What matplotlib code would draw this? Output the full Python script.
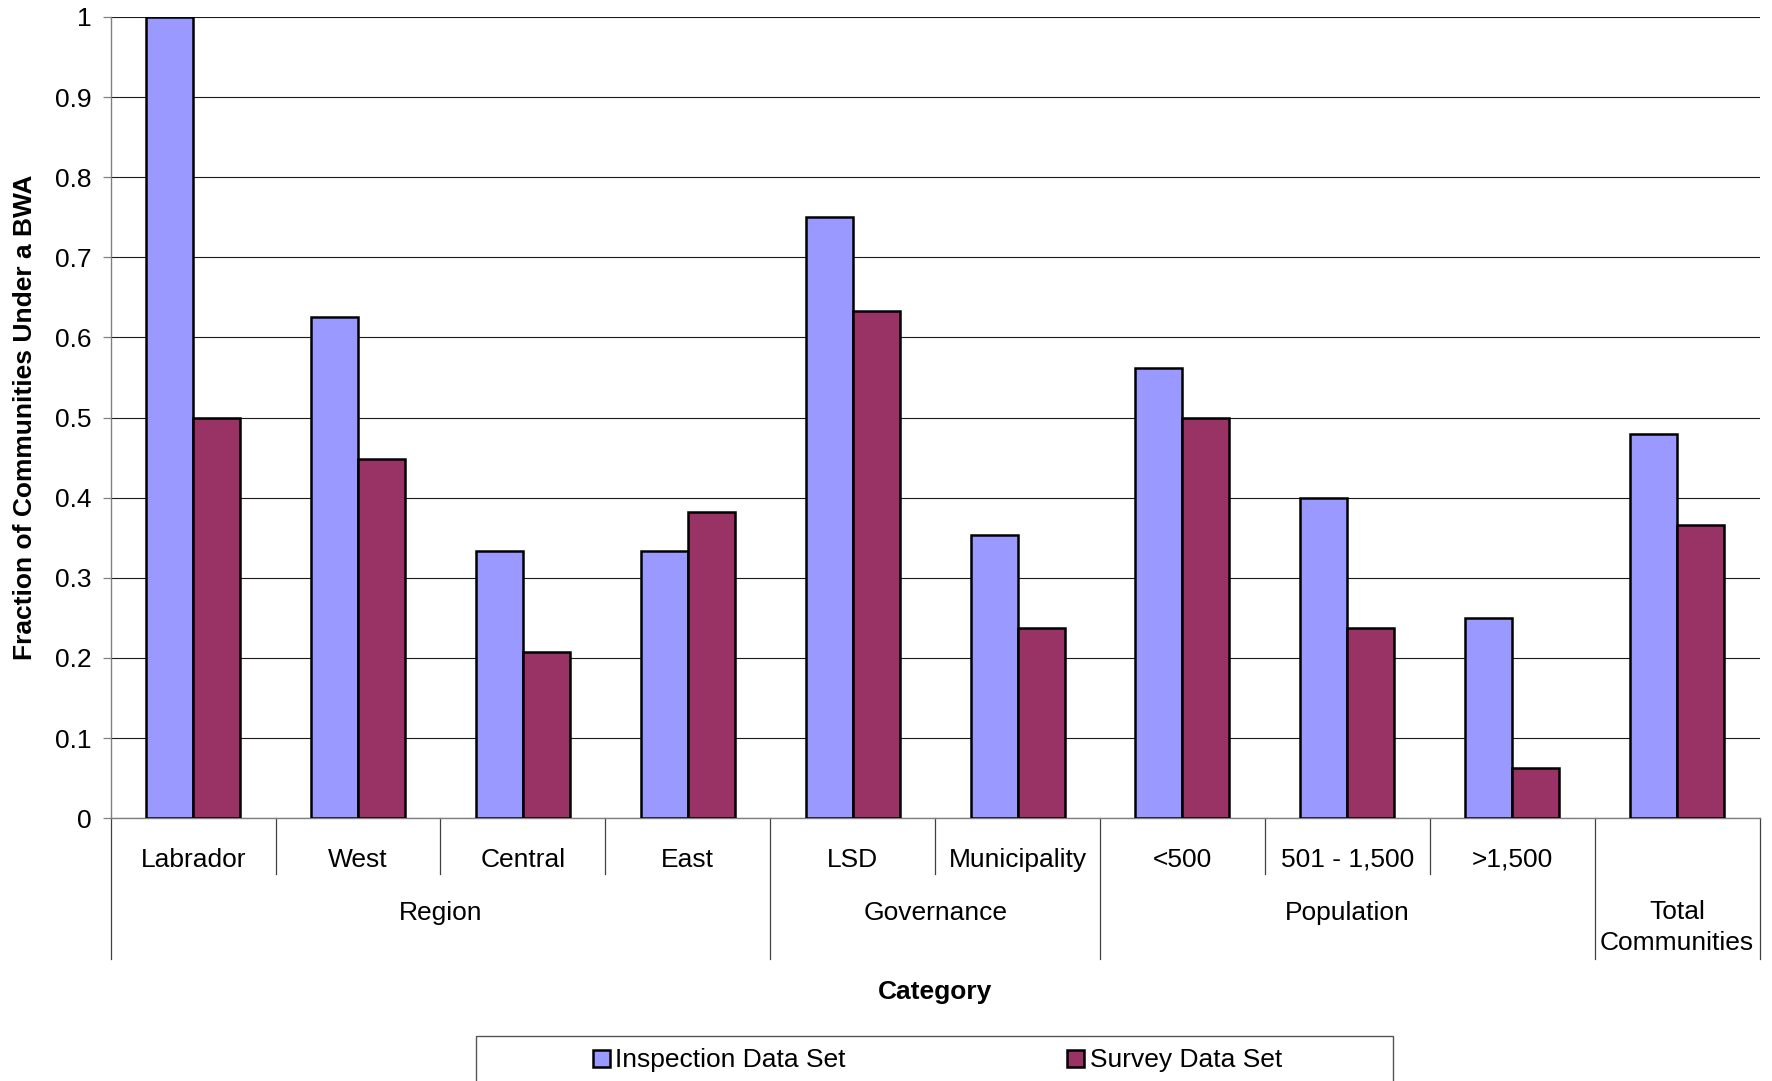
import matplotlib
matplotlib.use("Agg")
import matplotlib.pyplot as plt
from matplotlib.patches import Rectangle
from matplotlib.transforms import blended_transform_factory
import numpy as np

plt.rcParams['font.family'] = ['Liberation Sans', 'DejaVu Sans']

categories = ["Labrador", "West", "Central", "East", "LSD", "Municipality",
              "<500", "501 - 1,500", ">1,500", ""]
groups = ["Region", "Governance", "Population", "Total\nCommunities"]
group_sizes = [4, 2, 3, 1]
inspection = [1.0, 0.625, 0.333, 0.333, 0.75, 0.353, 0.5625, 0.40, 0.25, 0.48]
survey = [0.50, 0.448, 0.208, 0.382, 0.633, 0.237, 0.50, 0.237, 0.0625, 0.366]
series_names = ["Inspection Data Set", "Survey Data Set"]
colors = ["#9999FF", "#993366"]

FS = 19
W, H = 1772, 1081
fig = plt.figure(figsize=(W / 100, H / 100), dpi=100)
left, right, top, bottom = 110.7, 1759.6, 17.0, 818.2
ax = fig.add_axes([left / W, 1 - bottom / H, (right - left) / W, (bottom - top) / H])

x = np.arange(len(categories))
bw = 0.285
b1 = ax.bar(x - bw / 2, inspection, bw, color=colors[0], edgecolor="black",
            linewidth=1.8, label=series_names[0], zorder=3)
b2 = ax.bar(x + bw / 2, survey, bw, color=colors[1], edgecolor="black",
            linewidth=1.8, label=series_names[1], zorder=3)

ax.set_xlim(-0.5, len(categories) - 0.5)
ax.set_ylim(0, 1)
yt = np.round(np.arange(0, 1.01, 0.1), 1)
ax.set_yticks(yt)
ax.set_yticklabels(["0"] + [f"{v:.1f}" for v in yt[1:-1]] + ["1"])
ax.yaxis.grid(True, color="#1a1a1a", linewidth=0.8, zorder=0)
ax.set_axisbelow(True)
ax.tick_params(axis="y", length=6, width=0.9, color="#808080", pad=8, labelsize=FS)
ax.set_xticks([])
for s in ["top", "right"]:
    ax.spines[s].set_visible(False)
ax.spines["left"].set_color("#808080")
ax.spines["bottom"].set_color("#808080")
ax.spines["left"].set_linewidth(1.0)
ax.spines["bottom"].set_linewidth(1.0)

# multi-level category axis below the plot
tr = blended_transform_factory(ax.transData, ax.transAxes)
h_ax = bottom - top
short_y = -55.6 / h_ax
long_y = -141.0 / h_ax
for i, c in enumerate(categories):
    ax.text(i, -41.5 / h_ax, c, transform=tr, ha="center", va="center", fontsize=FS)

bounds = np.concatenate([[0], np.cumsum(group_sizes)])
long_edges = set(bounds.tolist())
for e in range(len(categories) + 1):
    xe = e - 0.5
    y1 = long_y if e in long_edges else short_y
    ax.plot([xe, xe], [0, y1], transform=tr, color="#404040", linewidth=0.9,
            clip_on=False)

for g, (a, b) in zip(groups, zip(bounds[:-1], bounds[1:])):
    xc = (a + b - 1) / 2
    if "\n" in g:
        ax.text(xc, -109.5 / h_ax, g, transform=tr, ha="center", va="center",
                fontsize=FS, linespacing=1.35)
    else:
        ax.text(xc, -94.5 / h_ax, g, transform=tr, ha="center", va="center",
                fontsize=FS)

fig.text((left + right) / 2 / W, 1 - 991.5 / H, "Category", ha="center",
         va="center", fontsize=FS, fontweight="bold")
fig.text(25 / W, 1 - (top + bottom) / 2 / H, "Fraction of Communities Under a BWA",
         rotation=90, ha="center", va="center", fontsize=FS, fontweight="bold")

# legend box and entries
fig.patches.append(Rectangle((475.8 / W, 1 - 1095 / H), (1393.4 - 475.8) / W,
                             (1095 - 1036.3) / H, transform=fig.transFigure,
                             facecolor="white", edgecolor="#555555", linewidth=1.0))
fig.legend(handles=[b1, b2], labels=series_names, loc="center",
           bbox_to_anchor=(937.4 / W, 1 - 1060.5 / H), ncol=2, frameon=False,
           fontsize=FS, handlelength=0.64, handleheight=0.64, handletextpad=0.21,
           columnspacing=8.4, borderpad=0)

fig.savefig("out.png", dpi=100)
